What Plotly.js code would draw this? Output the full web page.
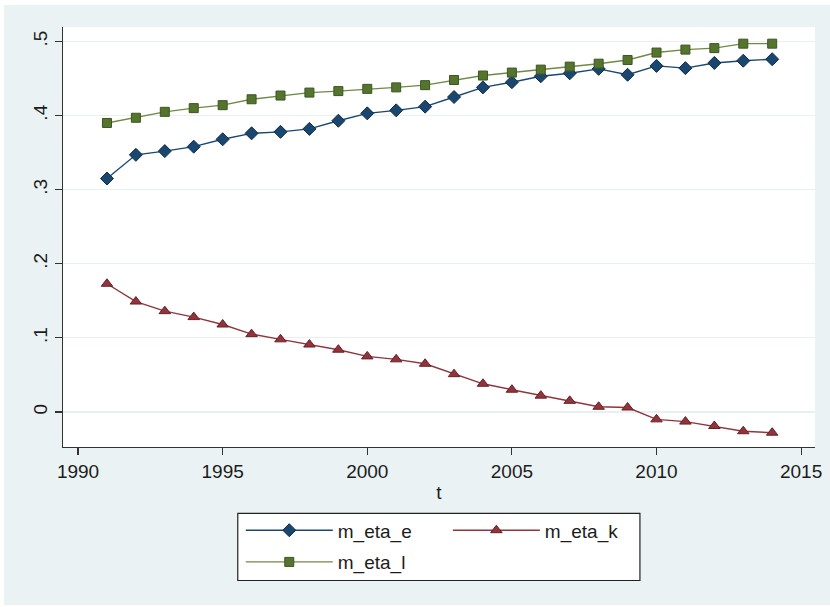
<!DOCTYPE html>
<html>
<head>
<meta charset="utf-8">
<script src="https://cdn.plot.ly/plotly-3.0.1.min.js"></script>
<style>
  html, body { margin: 0; padding: 0; background: #ffffff; }
  #chart { position: absolute; left: 4px; top: 5px; width: 826px; height: 600px; }
</style>
</head>
<body>
<div id="chart"></div>
<script>
// Yearly mean elasticities, 1991-2014
const years = [1991, 1992, 1993, 1994, 1995, 1996, 1997, 1998, 1999, 2000, 2001, 2002,
               2003, 2004, 2005, 2006, 2007, 2008, 2009, 2010, 2011, 2012, 2013, 2014];

const mEtaE = [0.315, 0.347, 0.352, 0.358, 0.368, 0.376, 0.378, 0.382, 0.393, 0.403, 0.407, 0.412,
               0.425, 0.438, 0.445, 0.453, 0.457, 0.463, 0.455, 0.467, 0.464, 0.471, 0.474, 0.476];

const mEtaK = [0.173, 0.149, 0.136, 0.128, 0.118, 0.105, 0.098, 0.091, 0.084, 0.075, 0.071, 0.065,
               0.051, 0.038, 0.030, 0.022, 0.015, 0.007, 0.006, -0.010, -0.013, -0.019, -0.026, -0.028];

const mEtaL = [0.390, 0.397, 0.405, 0.410, 0.414, 0.422, 0.427, 0.431, 0.433, 0.436, 0.438, 0.441,
               0.448, 0.454, 0.458, 0.462, 0.466, 0.470, 0.475, 0.485, 0.489, 0.491, 0.497, 0.497];

const seriesNames = ['m_eta_e', 'm_eta_k', 'm_eta_l'];

const yTickVals = [0, 0.1, 0.2, 0.3, 0.4, 0.5];
const yTickText = ['0', '.1', '.2', '.3', '.4', '.5'];
const xTickVals = [1990, 1995, 2000, 2005, 2010, 2015];

const FONT = 'Liberation Sans, Arial, Helvetica, sans-serif';
const INK = '#1c1c1c';

const traces = [
  {
    x: years, y: mEtaE, name: seriesNames[0], type: 'scatter', mode: 'lines+markers',
    line: { color: '#1a476f', width: 1.4 },
    marker: { symbol: 'diamond', size: 10, color: '#1a476f', line: { color: '#0e2c47', width: 1 } },
    legend: 'legend', legendgroup: 'e'
  },
  {
    x: years, y: mEtaK, name: seriesNames[1], type: 'scatter', mode: 'lines+markers',
    line: { color: '#90353b', width: 1.4 },
    marker: { symbol: 'triangle-up', size: 10, color: '#90353b', line: { color: '#6a1f25', width: 1 } },
    legend: 'legend2', legendgroup: 'k'
  },
  {
    x: years, y: mEtaL, name: seriesNames[2], type: 'scatter', mode: 'lines+markers',
    line: { color: '#6f8a45', width: 1.4 },
    marker: { symbol: 'square', size: 9, color: '#55752f', line: { color: '#3b5520', width: 1 } },
    legend: 'legend', legendgroup: 'l'
  }
];

// Two side-by-side legend columns sharing one framed box
const legendCommon = {
  orientation: 'v',
  bgcolor: 'rgba(0,0,0,0)',
  borderwidth: 0,
  font: { family: FONT, size: 19, color: INK },
  itemwidth: 87,
  tracegroupgap: 4,
  xanchor: 'left',
  yanchor: 'top',
  itemclick: false,
  itemdoubleclick: false
};

const layout = {
  width: 826,
  height: 600,
  margin: { l: 59.3, r: 15, t: 22.3, b: 158.3 },
  paper_bgcolor: '#eaf2f3',
  plot_bgcolor: '#ffffff',
  showlegend: true,
  font: { family: FONT, size: 19, color: INK },
  xaxis: {
    range: [1989.48, 2015.48],
    tickvals: xTickVals,
    ticks: 'outside', ticklen: 7, tickwidth: 1.2, tickcolor: '#333333',
    showline: true, linecolor: '#333333', linewidth: 1.2,
    showgrid: false, zeroline: false,
    tickfont: { family: FONT, size: 19, color: INK },
    title: { text: 't', font: { family: FONT, size: 19, color: INK }, standoff: 4 }
  },
  yaxis: {
    range: [-0.0473, 0.5195],
    tickvals: yTickVals, ticktext: yTickText,
    tickangle: -90,
    ticks: 'outside', ticklen: 7, tickwidth: 1.2, tickcolor: '#333333',
    showline: true, linecolor: '#333333', linewidth: 1.2,
    showgrid: true, gridcolor: '#e9f0f2', gridwidth: 1.2,
    zeroline: false,
    tickfont: { family: FONT, size: 19, color: INK }
  },
  legend: Object.assign({}, legendCommon, { x: 0.2364, y: -0.1532 }),
  legend2: Object.assign({}, legendCommon, { x: 0.5118, y: -0.1532 }),
  shapes: [
    {
      type: 'rect', xref: 'paper', yref: 'paper',
      x0: 0.2324, x1: 0.7672, y0: -0.3178, y1: -0.1581,
      fillcolor: '#ffffff', line: { color: '#222222', width: 1.2 }, layer: 'below'
    }
  ]
};

Plotly.newPlot('chart', traces, layout, { displayModeBar: false, staticPlot: true });
</script>
</body>
</html>
